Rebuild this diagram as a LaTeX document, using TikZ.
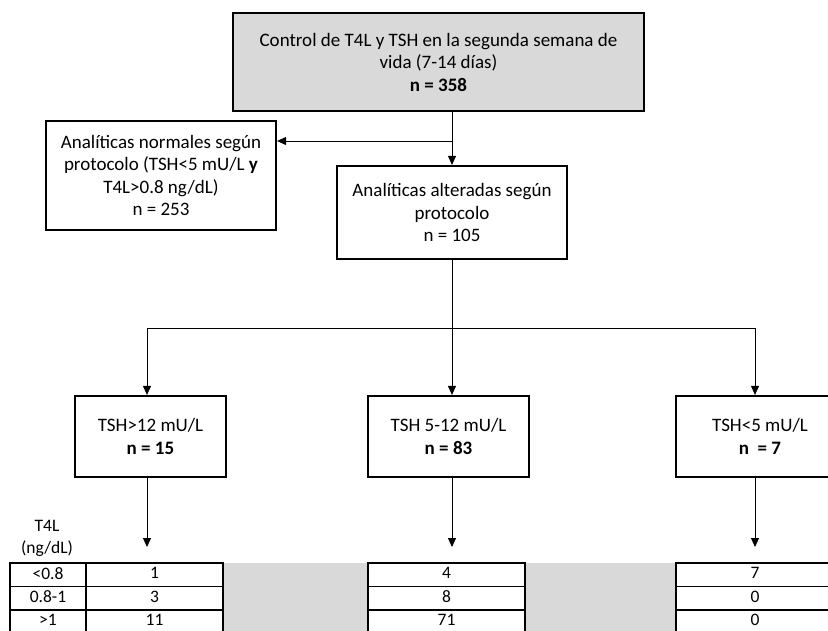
\documentclass[tikz,border=0pt]{standalone}
\usepackage{fontspec}
\setmainfont{Carlito}
\usetikzlibrary{arrows.meta}

\definecolor{boxgray}{HTML}{D9D9D9}
\tikzset{
  flowbox/.style={draw, line width=2.2pt, align=center, inner sep=0pt,
    font=\fontsize{19}{22.5}\selectfont},
  graybox/.style={flowbox, fill=boxgray},
  link/.style={line width=0.9pt, -{Triangle[width=8pt,length=9pt]}},
  cell/.style={draw, line width=1.3pt, inner sep=0pt, minimum height=23.5pt},
  celltext/.style={inner sep=0pt, font=\fontsize{17.5}{18}\selectfont},
}

\begin{document}
\begin{tikzpicture}[x=1pt, y=-1pt]
  \useasboundingbox (0,0) rectangle (828,630);
  % Boxes
  \node[graybox, minimum width=411pt, minimum height=98pt] (ctrl) at (438.5,62)
    {Control de T4L y TSH en la segunda semana de\\vida (7-14 días)\\\textbf{n = 358}};
  \node[flowbox, minimum width=230pt, minimum height=109pt] (normal) at (161,175.5)
    {Analíticas normales según\\protocolo (TSH<5 mU/L \textbf{y}\\T4L>0.8 ng/dL)\\n = 253};
  \node[flowbox, minimum width=230pt, minimum height=93pt] (alt) at (452,212.5)
    {Analíticas alteradas según\\protocolo\\n = 105};
  \node[flowbox, minimum width=151pt, minimum height=81pt] (tsh1) at (150.5,436.5)
    {TSH>12 mU/L\\\textbf{n = 15}};
  \node[flowbox, minimum width=161pt, minimum height=81pt] (tsh2) at (448.5,436.5)
    {TSH 5-12 mU/L\\\textbf{n = 83}};
  \node[flowbox, minimum width=168pt, minimum height=81pt] (tsh3) at (760,436.5)
    {TSH<5 mU/L\\\textbf{n\ \ = 7}};
  % Connectors
  \coordinate (split) at (452,141);
  \coordinate (b1) at (147,328);
  \coordinate (b3) at (755,328);
  \draw[link] (split |- ctrl.south) -- (alt.north);
  \draw[link] (split) -- (split -| normal.east);
  \draw[link] (alt.south) -- (alt.south |- tsh2.north);
  \draw[line width=0.9pt] (b1) -- (b3);
  \draw[link] (b1) -- (b1 |- tsh1.north);
  \draw[link] (b3) -- (b3 |- tsh3.north);
  \coordinate (t1) at (147,547);
  \coordinate (t2) at (452,547);
  \coordinate (t3) at (755,547);
  \draw[link] (t1 |- tsh1.south) -- (t1);
  \draw[link] (t2 |- tsh2.south) -- (t2);
  \draw[link] (t3 |- tsh3.south) -- (t3);
  % Tables
  \node[align=center, font=\fontsize{17.5}{22}\selectfont] (t4l) at (47,538) {T4L\\(ng/dL)};
  \fill[boxgray] (223,563) rectangle (368,640);
  \fill[boxgray] (525,563) rectangle (676,640);
  \foreach \lab/\a/\b/\c [count=\i] in {<0.8/1/4/7, 0.8-1/3/8/0, >1/11/71/0} {
    \pgfmathsetmacro{\yc}{563+23.5*(\i-1)+11.75}
    \node[cell, minimum width=76pt] (lab\i) at (48,\yc) {};
    \node[cell, minimum width=137pt] (va\i) at (154.5,\yc) {};
    \node[cell, minimum width=157pt] (vb\i) at (446.5,\yc) {};
    \node[cell, minimum width=168pt] (vc\i) at (760,\yc) {};
    \node[celltext] at ([yshift=1.5pt]lab\i.center) {\lab};
    \node[celltext] at ([yshift=1.5pt]va\i.center) {\a};
    \node[celltext] at ([yshift=1.5pt]vb\i.center) {\b};
    \node[celltext] at ([xshift=-5pt,yshift=1.5pt]vc\i.center) {\c};
  }
\end{tikzpicture}
\end{document}
